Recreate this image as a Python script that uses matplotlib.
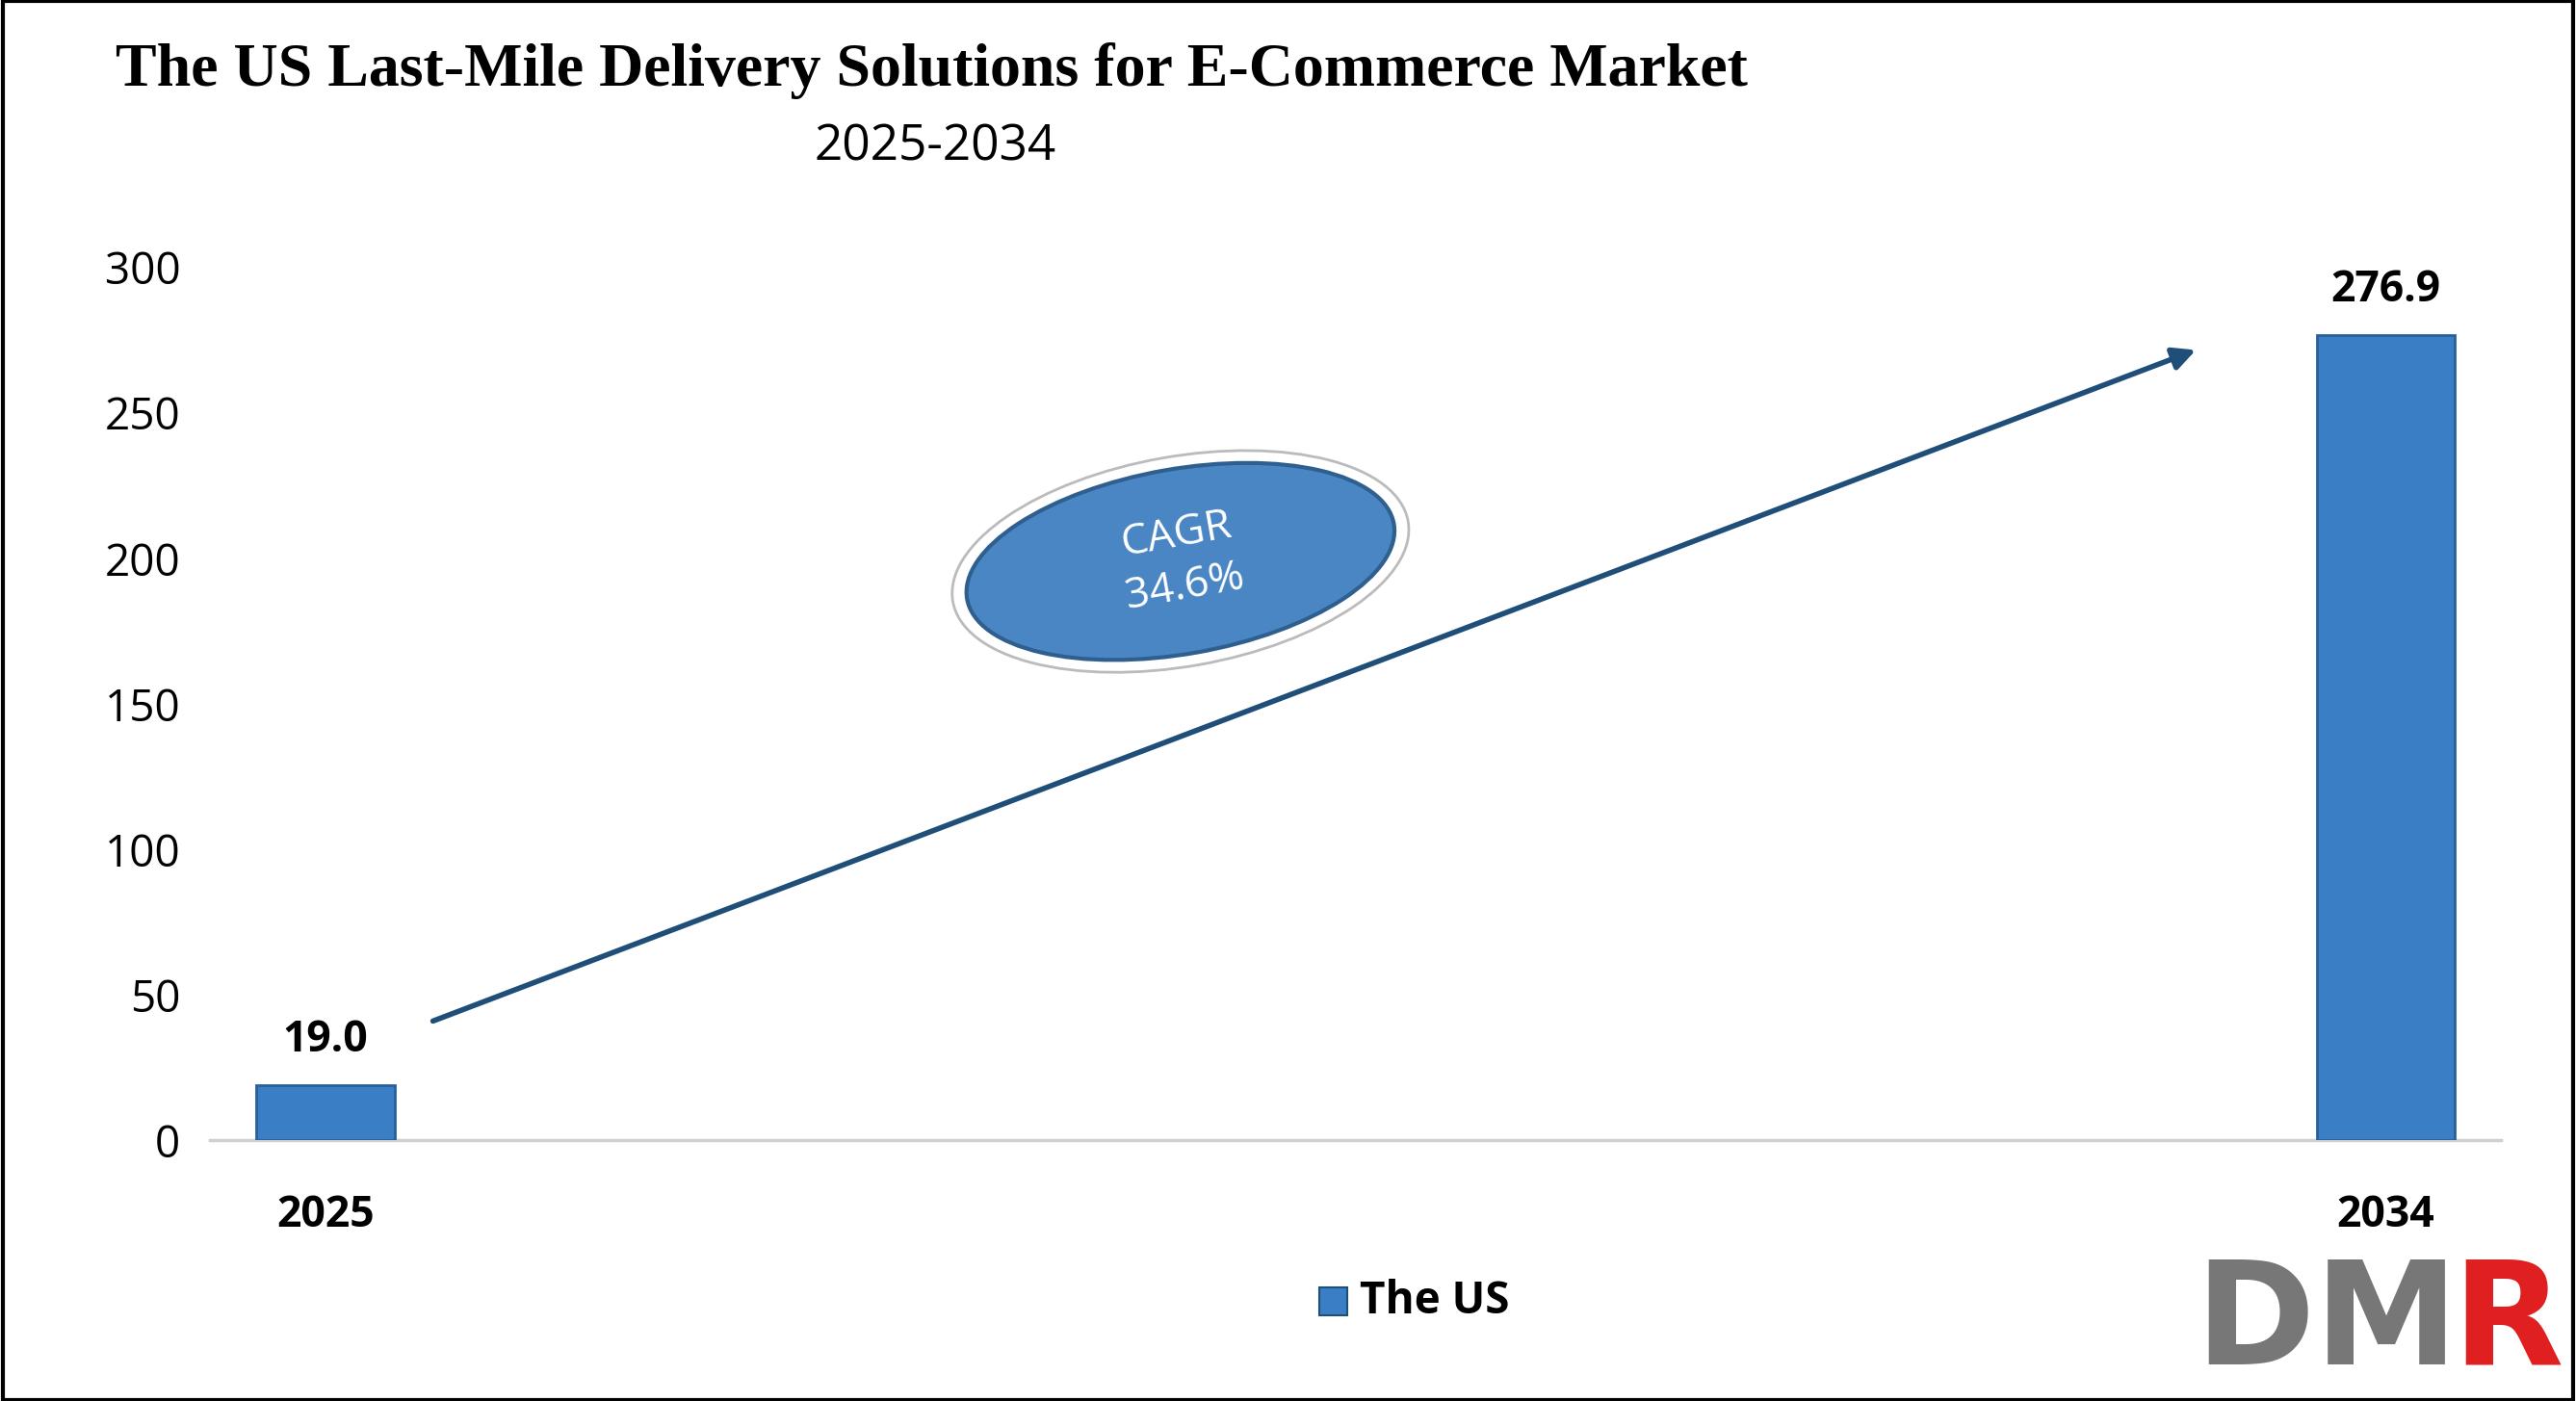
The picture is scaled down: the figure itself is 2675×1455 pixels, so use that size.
import matplotlib
matplotlib.use("Agg")
import matplotlib.pyplot as plt
from matplotlib.patches import Ellipse, Rectangle
from matplotlib.transforms import IdentityTransform

years = ["2025", "2034"]
values = [19.0, 276.9]
yticks = [0, 50, 100, 150, 200, 250, 300]
cagr = "CAGR\n34.6%"

fig = plt.figure(figsize=(26.75, 14.55), dpi=100)
ax = fig.add_axes([0.0815, 0.186, 0.8895, 0.623])
x = [0, 1]
ax.bar(x, values, width=0.067, color="#3A7FC6", edgecolor="#2A5F9A", linewidth=2, zorder=3)
for xi, v in zip(x, values):
    ax.text(xi, v + 8, f"{v:.1f}", ha="center", va="bottom", fontsize=32, fontweight="bold", family="Open Sans")
ax.set_xlim(-0.056, 1.056)
ax.set_ylim(0, 300)
ax.set_yticks(yticks)
ax.set_yticklabels([str(t) for t in yticks], fontsize=33, family="Open Sans")
ax.set_xticks(x)
ax.set_xticklabels(years, fontsize=32, fontweight="bold", family="Open Sans")
ax.tick_params(length=0, pad=22)
ax.tick_params(axis="x", pad=40)
for s in ["top", "right", "left"]:
    ax.spines[s].set_visible(False)
ax.spines["bottom"].set_color("#D0D0D0")
ax.spines["bottom"].set_linewidth(2.5)

ax.annotate("", xy=(0.909, 272), xytext=(0.051, 40.7),
            arrowprops=dict(arrowstyle="-|>", color="#1F4E79", lw=4, mutation_scale=35))

cx, cy = ax.transData.transform((0.415, 199))
ax.add_patch(Ellipse((cx, cy), 480, 218, angle=10, transform=IdentityTransform(),
                     facecolor="white", edgecolor="#BBBBBB", lw=2, zorder=4))
ax.add_patch(Ellipse((cx, cy), 450, 192, angle=10, transform=IdentityTransform(),
                     facecolor="#4A86C4", edgecolor="#2F5F8F", lw=3, zorder=5))
ax.text(0.415, 199, cagr, ha="center", va="center", rotation=10, color="white", fontsize=32,
        family="Open Sans", zorder=6, linespacing=1.3)

fig.text(0.045, 0.97, "The US Last-Mile Delivery Solutions for E-Commerce Market", fontsize=46,
         fontweight="bold", family="Liberation Serif", va="top")
fig.text(0.363, 0.895, "2025-2034", fontsize=37, family="Open Sans", ha="center", va="center")

fig.patches.append(Rectangle((0.512, 0.061), 0.011, 0.02, transform=fig.transFigure,
                             facecolor="#3A7FC6", edgecolor="#1F4E79", lw=1.5))
fig.text(0.528, 0.071, "The US", fontsize=33, fontweight="bold", family="Open Sans", va="center")

fig.text(0.852, 0.005, "DM", fontsize=108, fontweight="bold", color="#777777", family="DejaVu Sans", va="bottom")
fig.text(0.952, 0.005, "R", fontsize=108, fontweight="bold", color="#E02020", family="DejaVu Sans", va="bottom")

fig.patches.append(Rectangle((0.001, 0.001), 0.998, 0.998, transform=fig.transFigure,
                             fill=False, edgecolor="black", lw=3))
fig.savefig("out.png", dpi=100)
